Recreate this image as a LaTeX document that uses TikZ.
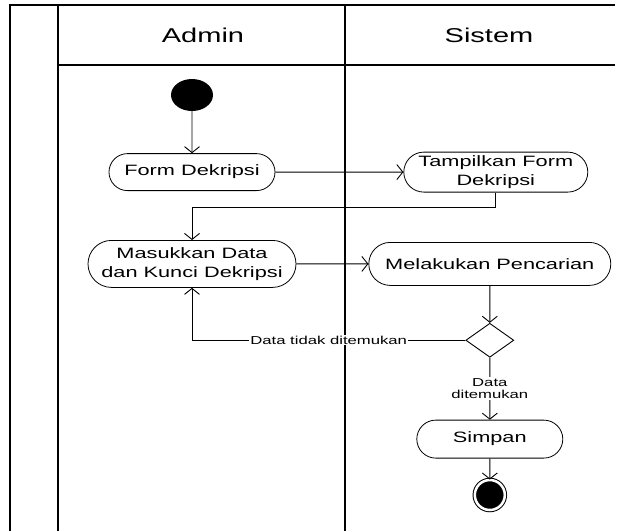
\documentclass[tikz,border=0pt]{standalone}
\usepackage{fontspec}
\setmainfont{Liberation Sans}[FakeStretch=1.45]
\usetikzlibrary{arrows.meta,positioning,shapes.geometric,shapes.misc}

\begin{document}
\begin{tikzpicture}[
  x=1pt,
  y=1pt,
  lane/.style={
    line width=1.4pt
  },
  act/.style={
    rounded rectangle,
    draw,
    line width=.8pt,
    minimum height=37pt,
    inner sep=2pt,
    align=center,
    font=\fontsize{15}{19}\selectfont
  },
  flow/.style={
    -{Straight Barb[length=6pt,width=15pt]},
    line width=.9pt
  },
  guard/.style={
    fill=white,
    inner sep=1pt,
    align=center,
    font=\fontsize{11.5}{12.5}\selectfont
  }
]
\useasboundingbox (0,0) rectangle (620,-531);

% swimlanes
\draw[lane] (10,-531) -- (10,-5) -- (615,-5);
\draw[lane] (58,-531) -- (58,-5);
\draw[lane] (345,-531) -- (345,-5);
\draw[lane] (58,-65) -- (615,-65);

\node[font=\fontsize{20}{24}\selectfont] (admin) at (203,-35) {Admin};
\node[font=\fontsize{20}{24}\selectfont] (sistem) at (489,-35) {Sistem};

% activities
\node[ellipse,fill=black,minimum width=42pt,minimum height=32pt,inner sep=0pt] (start) at (192,-95) {};
\node[act,minimum width=170pt,below=42pt of start] (form) {Form Dekripsi};
\node[act,minimum width=188pt,minimum height=40pt,right=128pt of form] (tampil) {Tampilkan Form\\Dekripsi};
\node[act,minimum width=212pt,minimum height=47pt,below=49pt of form] (masuk) {Masukkan Data\\dan Kunci Dekripsi};
\node[act,minimum width=246pt,minimum height=43pt,right=72pt of masuk] (cari) {Melakukan Pencarian};
\node[diamond,draw,line width=.9pt,minimum width=48pt,minimum height=34pt,inner sep=0pt,below=37pt of cari] (cek) {};
\node[act,minimum width=150pt,minimum height=38pt,below=62pt of cek] (simpan) {Simpan};
\node[circle,fill=black,draw,double=white,double distance=2.5pt,line width=1pt,minimum size=30pt,inner sep=0pt,below=21pt of simpan] (stop) {};

% flows
\draw[flow] (start) -- (form);
\draw[flow] (form) -- (tampil);
\draw[flow] (tampil.south) -- ++(0,-15) -| (masuk.north);
\draw[flow] (masuk) -- (cari);
\draw[flow] (cari) -- (cek);
\draw[flow] (cek.west) -| node[guard,pos=.25] {Data tidak ditemukan} (masuk.south);
\draw[flow] (cek) -- node[guard] {Data\\ditemukan} (simpan);
\draw[flow] (simpan) -- (stop);

\end{tikzpicture}
\end{document}
